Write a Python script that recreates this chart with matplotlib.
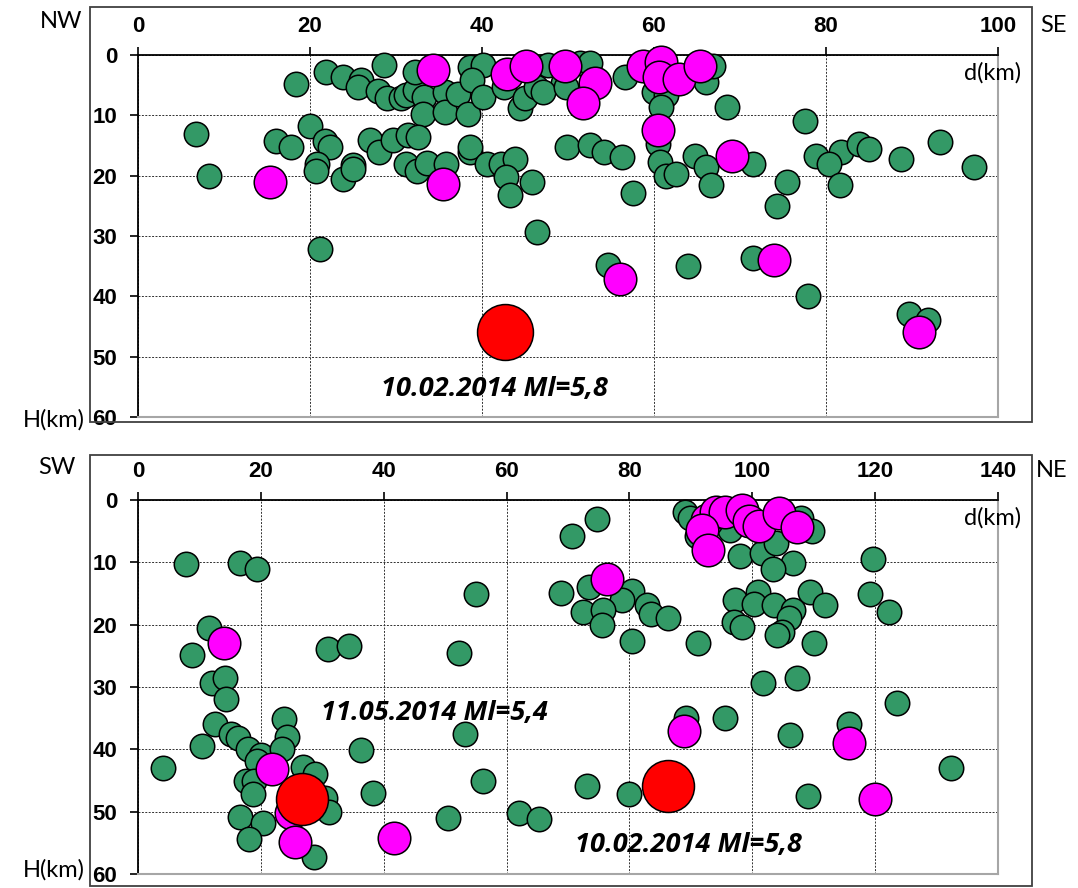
import matplotlib
matplotlib.use("Agg")
import matplotlib.pyplot as plt
from matplotlib.patches import Rectangle

W, H = 1078, 888

# ---- data: profile NW-SE (top) ----
top_green_x = [6.8, 8.2, 18.4, 21.9, 23.8, 25.9, 25.6, 28.6, 27.9, 28.9, 30.6, 31.2, 32.2, 32.2,
               33.3, 33.1, 35.7, 35.7, 37.2, 38.4, 38.6, 40.1, 38.8, 40.1, 42.5, 44.4, 45.0, 46.3,
               47.7, 49.4, 47.1, 51.4, 52.5, 49.8, 56.6, 60.0, 61.4, 60.8, 66.0, 66.9, 68.5, 77.5,
               60.5,
               16.1, 17.8, 20.0, 21.8, 22.3, 20.8, 20.7, 23.8, 25.0, 25.0, 27.0, 28.0, 29.6, 31.4,
               32.6, 31.2, 32.4, 33.6, 35.8, 38.6, 38.6, 40.6, 42.2, 43.8, 42.8, 43.2, 45.8, 49.9,
               52.6, 54.2, 56.3, 60.7, 61.4, 62.5, 57.5, 64.8, 66.1, 66.6, 71.5, 75.5, 74.3, 78.8,
               81.8, 80.4, 81.6, 83.8, 85.0, 88.7, 93.3, 97.2,
               21.2, 46.4, 54.7, 63.9, 71.5, 77.9, 89.7, 91.9]
top_green_y = [13.1, 20.1, 4.8, 2.8, 3.7, 4.1, 5.3, 1.7, 5.9, 7.2, 7.2, 6.6, 5.8, 2.8,
               6.9, 9.7, 6.1, 9.4, 6.4, 9.7, 2.0, 1.7, 4.1, 6.9, 5.3, 8.8, 7.2, 5.3,
               1.7, 4.7, 6.1, 1.4, 1.4, 5.3, 3.6, 6.1, 6.6, 8.6, 4.4, 1.9, 8.6, 10.9,
               14.7,
               14.2, 15.2, 11.8, 14.2, 15.2, 18.0, 19.2, 20.6, 18.3, 18.9, 14.1, 16.0, 14.1, 13.3,
               13.6, 18.0, 19.2, 17.9, 18.0, 16.1, 15.3, 18.0, 18.0, 17.2, 20.3, 23.2, 21.1, 15.2,
               15.0, 16.1, 16.9, 17.8, 20.0, 19.7, 22.9, 16.8, 18.6, 21.6, 18.1, 21.1, 25.0, 16.8,
               16.1, 18.1, 21.6, 14.7, 15.6, 17.3, 14.4, 18.5,
               32.1, 29.4, 34.8, 34.9, 33.6, 39.9, 42.9, 43.9]
top_mag_x = [15.3, 34.3, 35.5, 42.9, 45.1, 49.7, 53.1, 51.8, 58.7, 60.8, 60.6, 62.9, 65.4,
             60.5, 69.1, 56.1, 74.0, 90.8]
top_mag_y = [21.1, 2.5, 21.3, 3.1, 1.9, 1.9, 4.7, 7.9, 1.9, 1.1, 3.6, 4.0, 1.9,
             12.4, 16.7, 37.2, 34.0, 45.9]
top_red_x = [42.7]
top_red_y = [45.9]

# ---- data: profile SW-NE (bottom) ----
bot_green_x = [7.8, 16.6, 19.3, 55.0, 11.6, 8.8, 30.9, 34.3, 52.3, 12.0, 14.1, 14.3, 12.6, 15.2,
               16.2, 10.4, 4.1, 17.9, 20.1, 19.3, 23.8, 24.3, 23.5, 17.6, 18.9, 18.8, 26.9, 28.8,
               30.5, 31.1, 28.7, 16.6, 20.4, 18.1, 36.3, 38.3, 53.3, 56.1, 50.4, 62.0, 65.2,
               74.7, 70.6, 68.9, 73.4, 80.4, 78.8, 72.4, 75.7, 75.5, 82.8, 83.5, 86.2, 80.4, 91.1,
               97.2, 100.9, 100.2, 97.0, 98.3, 103.6, 106.6, 105.9, 104.8, 104.1, 109.4, 111.8,
               110.0, 119.6, 119.2, 122.2, 89.1, 89.9, 91.0, 92.7, 98.0, 101.6, 103.9, 106.6,
               103.4, 108.0, 109.7, 96.3,
               101.7, 107.3, 123.6, 89.2, 95.5, 106.1, 115.8, 132.4, 73.1, 79.9, 109.0]
bot_green_y = [10.2, 10.1, 11.0, 15.0, 20.5, 24.8, 23.9, 23.4, 24.6, 29.4, 28.6, 32.0, 35.9, 37.5,
               38.2, 39.5, 43.0, 40.0, 40.9, 41.9, 35.1, 38.0, 39.9, 45.0, 45.0, 47.1, 42.8, 44.0,
               47.8, 50.0, 57.2, 50.8, 51.8, 54.4, 40.1, 47.0, 37.6, 45.0, 51.0, 50.2, 51.2,
               3.0, 5.7, 14.9, 14.0, 14.6, 16.1, 18.0, 17.7, 20.0, 16.9, 18.3, 19.0, 22.6, 23.0,
               16.1, 14.8, 16.7, 19.5, 20.4, 16.8, 17.7, 19.0, 21.2, 21.7, 14.8, 16.9,
               22.9, 9.5, 15.0, 18.0, 1.9, 2.9, 5.8, 7.9, 9.0, 8.5, 6.9, 10.1,
               11.1, 2.9, 4.9, 4.8,
               29.4, 28.6, 32.5, 35.0, 35.0, 37.7, 35.9, 43.0, 45.9, 47.2, 47.5]
bot_mag_x = [14.0, 21.8, 24.9, 25.5, 41.6, 76.4, 92.7, 94.1, 95.5, 98.3, 99.4, 101.1, 104.4,
             107.2, 91.8, 92.8, 88.9, 115.8, 120.0]
bot_mag_y = [22.9, 43.1, 50.2, 54.8, 54.2, 12.6, 3.2, 1.9, 1.9, 1.6, 3.4, 4.2, 2.1,
             4.3, 4.8, 8.1, 37.1, 39.0, 48.0]
bot_red_x = [26.7, 86.2]
bot_red_y = [48.0, 45.9]

GREEN = "#339966"
MAG = "#FF00FF"
RED = "#FF0000"


def fx(px):
    return px / W


def fy(py):
    return 1 - py / H


fig = plt.figure(figsize=(W / 100, H / 100), dpi=100)


def panel(rect, frame, xmax, gx, gy, mx, my, rx, ry, rsize, labels, notes):
    # outer chart frame
    fig.patches.append(Rectangle((fx(frame[0]), fy(frame[3])), fx(frame[2] - frame[0]),
                                 (frame[3] - frame[1]) / H, transform=fig.transFigure,
                                 fill=False, edgecolor="#404040", lw=1.3))
    ax = fig.add_axes(rect)
    ax.set_xlim(0, xmax)
    ax.set_ylim(60, 0)
    ax.set_xticks(range(0, xmax + 1, 20))
    ax.set_yticks(range(0, 61, 10))
    ax.xaxis.tick_top()
    ax.tick_params(axis="both", direction="out", length=6, width=1.2, colors="black",
                   labelsize=16)
    ax.tick_params(axis="x", pad=7)
    ax.tick_params(axis="y", pad=9)
    for lab in ax.get_xticklabels() + ax.get_yticklabels():
        lab.set_fontweight("bold")
        lab.set_family("Liberation Sans")
    ax.grid(True, color="#303030", lw=0.7, ls=(0, (2, 1.5)))
    ax.set_axisbelow(True)
    for s in ["left", "top"]:
        ax.spines[s].set_color("black")
        ax.spines[s].set_linewidth(1.3)
    for s in ["right", "bottom"]:
        ax.spines[s].set_color("#A6A6A6")
        ax.spines[s].set_linewidth(1.5)

    ax.scatter(gx, gy, s=310, c=GREEN, edgecolors="black", linewidths=1.1, zorder=3, clip_on=False)
    ax.scatter(mx, my, s=550, c=MAG, edgecolors="black", linewidths=1.1, zorder=4, clip_on=False)
    ax.scatter(rx, ry, s=rsize, c=RED, edgecolors="black", linewidths=1.1, zorder=5, clip_on=False)

    for txt, x, y in notes:
        ax.text(x, y, txt, ha="center", va="center", fontsize=19.5, family="Open Sans",
                fontweight="bold", style="italic", zorder=6)

    for txt, x, y, ha in labels:
        fig.text(fx(x), fy(y), txt, ha=ha, va="center", fontsize=17, family="Lato")
    return ax


panel([fx(138), fy(417), 860 / W, 362 / H], (90, 7, 1032, 422), 100,
      top_green_x, top_green_y, top_mag_x, top_mag_y, top_red_x, top_red_y, 1620,
      [("NW", 82, 22, "right"), ("SE", 1040, 25, "left"), ("H(km)", 85, 420, "right"),
       ("d(km)", 1021, 73, "right")],
      [("10.02.2014 Ml=5,8", 41.5, 55.3)])

panel([fx(138), fy(874), 860 / W, 374 / H], (90, 455, 1032, 886), 140,
      bot_green_x, bot_green_y, bot_mag_x, bot_mag_y, bot_red_x, bot_red_y, 1400,
      [("SW", 76, 468, "right"), ("NE", 1036, 470, "left"), ("H(km)", 85, 870, "right"),
       ("d(km)", 1021, 518, "right")],
      [("11.05.2014 Ml=5,4", 48.2, 34.2), ("10.02.2014 Ml=5,8", 89.6, 55.4)])

fig.savefig("out.png", dpi=100)
